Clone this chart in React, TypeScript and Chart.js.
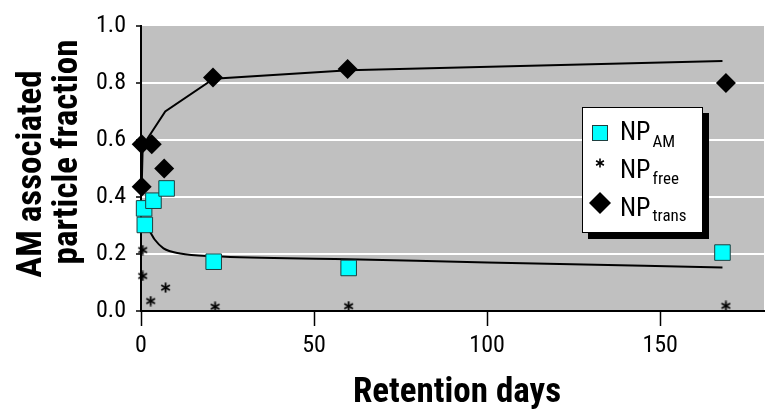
import React, { useEffect, useRef } from 'react';
import { Chart, registerables } from 'chart.js';

Chart.register(...registerables);

// ---- data ----
const amDays = [1.1, 0.9, 3.6, 7.4, 21, 60, 168];
const amValues = [0.302, 0.36, 0.387, 0.43, 0.173, 0.151, 0.205];

const freeDays = [0.5, 0.5, 2.8, 7.1, 21.4, 60, 169];
const freeValues = [0.214, 0.123, 0.035, 0.082, 0.015, 0.017, 0.018];

const transDays = [0.2, 0.2, 3.1, 6.7, 20.8, 59.7, 169];
const transValues = [0.585, 0.436, 0.585, 0.5, 0.819, 0.849, 0.8];

const amFitDays = [1.2, 2.6, 4, 6.5, 11.3, 21, 60, 100, 168];
const amFitValues = [0.3, 0.278, 0.25, 0.22, 0.202, 0.192, 0.182, 0.17, 0.153];

const transFitDays = [0.2, 0.5, 3.5, 7, 21, 60, 168];
const transFitValues = [0.436, 0.58, 0.635, 0.7, 0.815, 0.845, 0.877];

const xTickValues = [0, 50, 100, 150];
const yTickValues = [0, 0.2, 0.4, 0.6, 0.8, 1.0];

const legendMain = ['NP', 'NP', 'NP'];
const legendSubs = ['AM', 'free', 'trans'];
const xTitle = 'Retention days';
const yTitleLines = ['AM associated', 'particle fraction'];

const zip = (xs: number[], ys: number[]) => xs.map((x, i) => ({ x, y: ys[i] }));

function pickFamily(cands: string[], fallback: string): string {
  const c = document.createElement('canvas').getContext('2d');
  if (!c) return fallback;
  const s = 'Retention days 0123456789 particle';
  for (const f of cands) {
    c.font = `40px "${f}", monospace`;
    const a = c.measureText(s).width;
    c.font = `40px "${f}", serif`;
    const b = c.measureText(s).width;
    if (Math.abs(a - b) < 0.01) return `"${f}", ${fallback}`;
  }
  return fallback;
}

function makeAsterisk(size: number, lw: number): HTMLCanvasElement {
  const c = document.createElement('canvas');
  c.width = size;
  c.height = size;
  const g = c.getContext('2d')!;
  g.strokeStyle = '#000';
  g.lineWidth = lw;
  const cx = size / 2;
  const r = size / 2 - 0.5;
  for (const a of [90, 30, 150]) {
    const rad = (a * Math.PI) / 180;
    g.beginPath();
    g.moveTo(cx - r * Math.cos(rad), cx - r * Math.sin(rad));
    g.lineTo(cx + r * Math.cos(rad), cx + r * Math.sin(rad));
    g.stroke();
  }
  return c;
}

export default function App() {
  const ref = useRef<HTMLCanvasElement | null>(null);

  useEffect(() => {
    document.body.style.margin = '0';
    const canvas = ref.current;
    if (!canvas) return;
    const family = pickFamily(
      ['Liberation Sans Narrow', 'Arial Narrow', 'Roboto Condensed', 'DejaVu Sans Condensed'],
      '"Liberation Sans", Arial, sans-serif'
    );
    const asterisk = makeAsterisk(11, 1.8);

    const bgPlugin = {
      id: 'bgPlugin',
      beforeDraw(chart: any) {
        const { ctx, chartArea } = chart;
        const { left, top, right, bottom } = chartArea;
        ctx.save();
        ctx.fillStyle = '#ffffff';
        ctx.fillRect(0, 0, chart.width, chart.height);
        ctx.fillStyle = '#c0c0c0';
        ctx.fillRect(left, top, right - left, bottom - top);
        ctx.restore();
      },
    };

    const decorPlugin = {
      id: 'decorPlugin',
      afterDraw(chart: any) {
        const ctx = chart.ctx as CanvasRenderingContext2D;
        ctx.save();
        ctx.fillStyle = '#000';
        // x title
        ctx.font = `bold 35px ${family}`;
        ctx.textAlign = 'center';
        ctx.textBaseline = 'alphabetic';
        ctx.fillText(xTitle, 457, 402);
        // y title (two lines, rotated)
        ctx.font = `bold 35px ${family}`;
        const yPos = [
          [41, 174],
          [77, 152],
        ];
        yTitleLines.forEach((t, i) => {
          ctx.save();
          ctx.translate(yPos[i][0], yPos[i][1]);
          ctx.rotate(-Math.PI / 2);
          ctx.fillText(t, 0, 0);
          ctx.restore();
        });

        // legend
        const bx = 582, by = 107, bw = 120, bh = 125;
        ctx.fillStyle = '#000';
        ctx.fillRect(bx + 6, by + 6, bw + 1, bh + 1);
        ctx.fillStyle = '#fff';
        ctx.fillRect(bx, by, bw, bh);
        ctx.strokeStyle = '#000';
        ctx.lineWidth = 1;
        ctx.strokeRect(bx + 0.5, by + 0.5, bw, bh);

        const mx = 600;
        // square
        ctx.fillStyle = '#00ffff';
        ctx.fillRect(mx - 7.5, 133 - 7.5, 15, 15);
        ctx.strokeStyle = '#1f3f3f';
        ctx.strokeRect(mx - 7.5, 133 - 7.5, 15, 15);
        // asterisk
        ctx.drawImage(makeAsterisk(10, 1.6), mx - 5, 163 - 5);
        // diamond
        ctx.fillStyle = '#000';
        ctx.beginPath();
        ctx.moveTo(mx - 11, 203);
        ctx.lineTo(mx, 192);
        ctx.lineTo(mx + 11, 203);
        ctx.lineTo(mx, 214);
        ctx.closePath();
        ctx.fill();

        const baselines = [139.5, 177.5, 216];
        const subBase = [147, 184, 221];
        ctx.textAlign = 'left';
        legendMain.forEach((m, i) => {
          ctx.fillStyle = '#000';
          ctx.font = `26px ${family}`;
          ctx.fillText(m, 620, baselines[i]);
          const w = ctx.measureText(m).width;
          ctx.font = `17px ${family}`;
          ctx.fillText(legendSubs[i], 620 + w + 2, subBase[i]);
        });
        ctx.restore();
      },
    };

    const chart = new Chart(canvas, {
      type: 'scatter',
      data: {
        datasets: [
          {
            label: 'NP_AM',
            data: zip(amDays, amValues),
            showLine: false,
            pointStyle: 'rect',
            pointRadius: 11,
            backgroundColor: '#00ffff',
            borderColor: '#1f3f3f',
            borderWidth: 1,
            order: 0,
            clip: false,
          } as any,
          {
            label: 'NP_free',
            data: zip(freeDays, freeValues),
            showLine: false,
            pointStyle: asterisk,
            pointRadius: 5,
            order: 1,
            clip: false,
          },
          {
            label: 'NP_trans',
            data: zip(transDays, transValues),
            showLine: false,
            pointStyle: 'rectRot',
            pointRadius: 10,
            backgroundColor: '#000',
            borderColor: '#000',
            borderWidth: 0,
            order: 2,
            clip: false,
          },
          {
            label: 'AM fit',
            data: zip(amFitDays, amFitValues),
            showLine: true,
            pointRadius: 0,
            borderColor: '#000',
            borderWidth: 2,
            cubicInterpolationMode: 'monotone',
            fill: false,
            order: 3,
            clip: false,
          },
          {
            label: 'trans fit',
            data: zip(transFitDays, transFitValues),
            showLine: true,
            pointRadius: 0,
            borderColor: '#000',
            borderWidth: 2,
            tension: 0,
            fill: false,
            order: 4,
            clip: false,
          },
        ],
      },
      options: {
        animation: false,
        responsive: false,
        events: [],
        layout: { padding: { top: 26, right: 12, left: 0, bottom: 0 } },
        plugins: { legend: { display: false }, tooltip: { enabled: false } },
        scales: {
          x: {
            type: 'linear',
            min: 0,
            max: 180,
            afterFit: (s: any) => {
              s.height = 101;
            },
            afterBuildTicks: (s: any) => {
              s.ticks = xTickValues.map((v) => ({ value: v }));
            },
            ticks: {
              color: '#000',
              font: { family, size: 24 },
              padding: 6,
              maxRotation: 0,
              autoSkip: false,
            },
            grid: {
              drawOnChartArea: false,
              drawTicks: true,
              tickLength: 15,
              tickColor: '#000',
              tickWidth: 1.5,
            },
            border: { display: true, color: '#000', width: 2 },
          },
          y: {
            type: 'linear',
            min: 0,
            max: 1,
            afterFit: (s: any) => {
              s.width = 141;
            },
            afterBuildTicks: (s: any) => {
              s.ticks = yTickValues.map((v) => ({ value: v }));
            },
            ticks: {
              color: '#000',
              font: { family, size: 24 },
              padding: 10,
              callback: (v: any) => Number(v).toFixed(1),
            },
            grid: {
              color: (c: any) => {
                const v = c.tick ? c.tick.value : 0.5;
                return Math.abs(v) < 1e-6 || Math.abs(v - 1) < 1e-6 ? 'rgba(0,0,0,0)' : '#ffffff';
              },
              lineWidth: 2,
              drawTicks: true,
              tickLength: 5,
              tickColor: '#000',
              tickWidth: 1.5,
            },
            border: { display: true, color: '#000', width: 2 },
          },
        },
      },
      plugins: [bgPlugin, decorPlugin],
    });

    return () => {
      chart.destroy();
    };
  }, []);

  return (
    <div style={{ width: 776, height: 412 }}>
      <canvas ref={ref} width={776} height={412} style={{ display: 'block' }} />
    </div>
  );
}
